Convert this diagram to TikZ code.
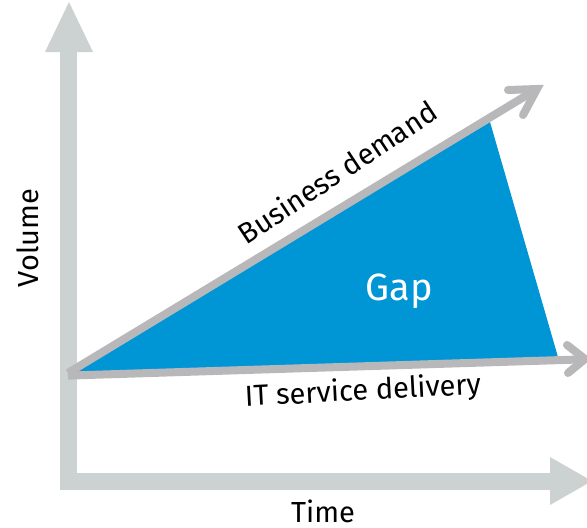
\documentclass[tikz,border=0pt]{standalone}
\usepackage{fontspec}
\setmainfont{Fira Sans}
\definecolor{axisgray}{HTML}{CCD2D2}
\definecolor{linegray}{HTML}{B8B8BA}
\definecolor{gapblue}{HTML}{0096D6}
\begin{document}
\begin{tikzpicture}[x=1pt,y=-1pt,
  lab/.style={font=\fontsize{29}{33}\selectfont,text=black,inner sep=0pt},
  axisline/.style={draw=axisgray,line width=17},
  head/.style={fill=axisgray,draw=none},
  trend/.style={draw=linegray,line width=8},
  open/.style={draw=linegray,line width=8,line cap=round,line join=miter}]
\useasboundingbox (0,0) rectangle (587,528);
\coordinate (o) at (68,373);
\coordinate (os) at (68,375.6);
\coordinate (bd) at (537,89);
\coordinate (it) at (585,359.3);
\coordinate (corner) at (68.5,481);
\coordinate (yt) at (68.5,45);
\coordinate (xt) at (552,481);
\fill[gapblue] (o) -- (490,122) -- (558,357) -- cycle;
\draw[axisline] (yt) -- (corner) -- (xt);
\fill[head] (45,52) -- (69,2) -- (93,52) -- cycle;
\fill[head] (550,457) -- (592,481) -- (550,505) -- cycle;
\draw[trend] (o) -- (bd);
\draw[open] (508,90) -- (bd) -- (523,115);
\draw[trend] (os) -- (it);
\draw[open] (567,345) -- (585,359) -- (568,373);
\node[lab,rotate=90] (vol) at (28,238) {Volume};
\node[lab,rotate=33.5] (bdl) at (337,172) {Business demand};
\node[lab,rotate=3] (itl) at (363,392) {IT service delivery};
\node[lab] (tm) at (323,511) {Time};
\node[lab,text=white,font=\fontsize{38}{42}\selectfont] (gap) at (399,291) {Gap};
\end{tikzpicture}
\end{document}
